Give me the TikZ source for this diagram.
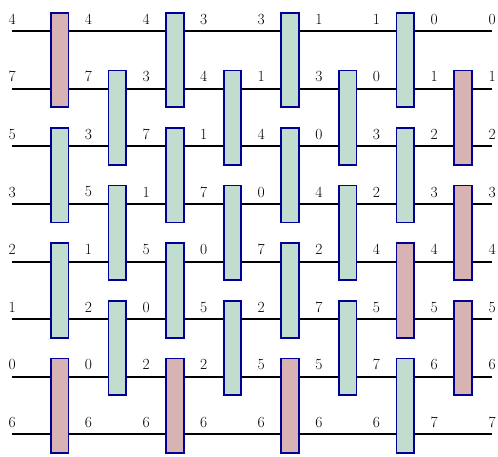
\documentclass[tikz,border=0pt]{standalone}
\definecolor{swapgreen}{RGB}{193,221,208}
\definecolor{keeppink}{RGB}{217,179,179}
\definecolor{boxblue}{RGB}{0,0,150}
\begin{document}
\begin{tikzpicture}[x=1pt,y=-1pt,
  wire/.style={line width=2pt,black},
  cmpbox/.style={draw=boxblue, line width=1.7pt, minimum width=17.6pt, minimum height=94.5pt, inner sep=0pt},
  cmpswap/.style={cmpbox, fill=swapgreen},
  cmpkeep/.style={cmpbox, fill=keeppink},
  val/.style={font=\fontsize{15.5}{18}\selectfont, inner sep=0pt}]
\useasboundingbox (0,0) rectangle (498,456);
% wires
\foreach \i in {0,...,7} {
  \coordinate (w\i L) at (12.3, {31.2+57.6*\i});
  \coordinate (w\i R) at (492.3, {31.2+57.6*\i});
  \draw[wire] (w\i L) -- (w\i R);
}
% comparators
\foreach \c/\w/\t in {
  0/0/cmpkeep, 0/2/cmpswap, 0/4/cmpswap, 0/6/cmpkeep,
  1/1/cmpswap, 1/3/cmpswap, 1/5/cmpswap,
  2/0/cmpswap, 2/2/cmpswap, 2/4/cmpswap, 2/6/cmpkeep,
  3/1/cmpswap, 3/3/cmpswap, 3/5/cmpswap,
  4/0/cmpswap, 4/2/cmpswap, 4/4/cmpswap, 4/6/cmpkeep,
  5/1/cmpswap, 5/3/cmpswap, 5/5/cmpswap,
  6/0/cmpswap, 6/2/cmpswap, 6/4/cmpkeep, 6/6/cmpswap,
  7/1/cmpkeep, 7/3/cmpkeep, 7/5/cmpkeep} {
  \node[\t] (c\c-\w) at ({59.7+57.6*\c}, {31.2+57.6*(\w+0.5)}) {};
}
% values
\foreach \vals [count=\r from 0] in {
  {4,4,4,3,3,1,1,0,0},
  {7,7,3,4,1,3,0,1,1},
  {5,3,7,1,4,0,3,2,2},
  {3,5,1,7,0,4,2,3,3},
  {2,1,5,0,7,2,4,4,4},
  {1,2,0,5,2,7,5,5,5},
  {0,0,2,2,5,5,7,6,6},
  {6,6,6,6,6,6,6,7,7}} {
  \foreach \v [count=\k from 0] in \vals {
    \pgfmathsetmacro{\lx}{\k==0 ? 12.3 : (\k==8 ? 492.3 : 88.5+57.6*(\k-1))}
    \node[val] (l\r-\k) at (\lx, {31.2+57.6*\r-12}) {\v};
  }
}
\end{tikzpicture}
\end{document}
